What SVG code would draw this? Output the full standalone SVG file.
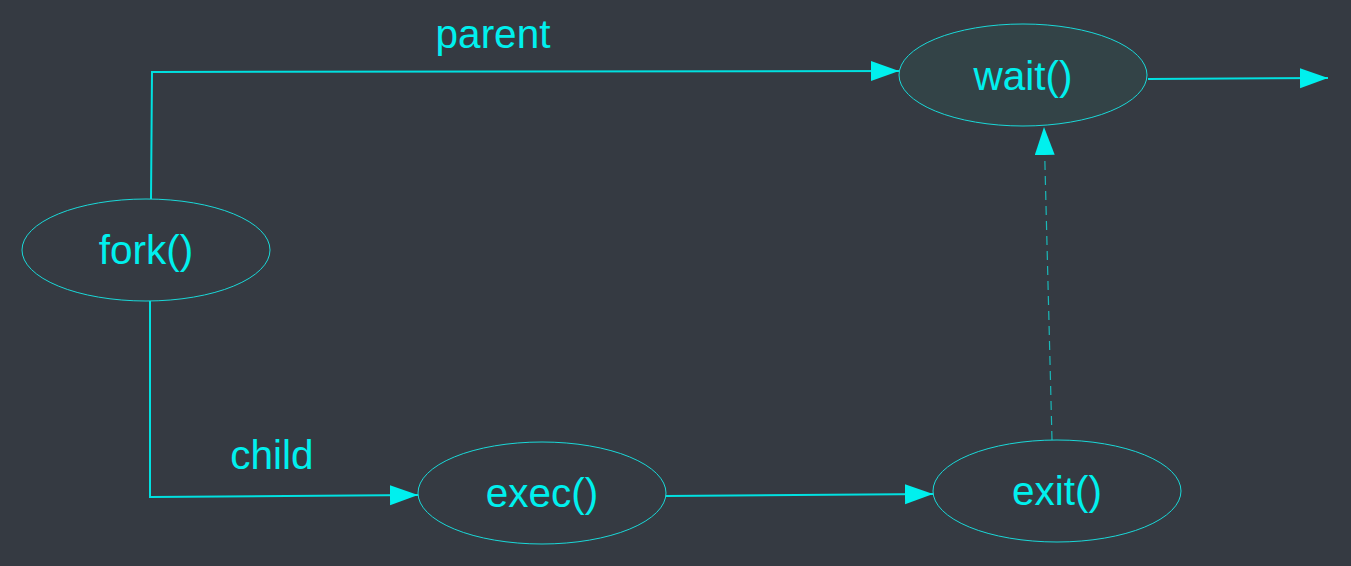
<svg xmlns="http://www.w3.org/2000/svg" width="1351" height="566" viewBox="0 0 1351 566">
<style>
.node ellipse{fill:none;stroke:#1ad8d8;stroke-width:1}
.node text,.lbl{font-family:"Liberation Sans",Arial,sans-serif;font-size:40.5px;fill:#00f0ee;text-anchor:middle}
.edge{fill:none;stroke:#00e0e0;stroke-width:2}
.dash{fill:none;stroke:#1ab8b8;stroke-width:1.2;stroke-dasharray:9 6}
</style>
<defs>
<marker id="ah" markerUnits="userSpaceOnUse" markerWidth="30" markerHeight="22" refX="28" refY="10" orient="auto">
<path d="M0,0 L28,10 L0,20 z" fill="#00f0ee"/>
</marker>
</defs>
<rect width="1351" height="566" fill="#353a42"/>
<g id="connectors">
<polyline class="edge" points="151,199 152,72 899,71" marker-end="url(#ah)"/>
<polyline class="edge" points="150,301 150,497 418,495" marker-end="url(#ah)"/>
<line class="edge" x1="666" y1="496" x2="933" y2="494" marker-end="url(#ah)"/>
<line class="edge" x1="1148" y1="79" x2="1328" y2="78" marker-end="url(#ah)"/>
<line class="dash" x1="1052" y1="440" x2="1044" y2="127" marker-end="url(#ah)"/>
<text class="lbl" x="493" y="48">parent</text>
<text class="lbl" x="272" y="469">child</text>
</g>
<g id="wait" class="node">
<ellipse cx="1023" cy="75" rx="124" ry="51" style="fill:#334347"/>
<text x="1023" y="90">wait()</text>
</g>
<g id="fork" class="node">
<ellipse cx="146" cy="250" rx="124" ry="51"/>
<text x="146" y="264">fork()</text>
</g>
<g id="exec" class="node">
<ellipse cx="542" cy="493" rx="124" ry="51"/>
<text x="542" y="507">exec()</text>
</g>
<g id="exit" class="node">
<ellipse cx="1057" cy="491" rx="124" ry="51"/>
<text x="1057" y="505">exit()</text>
</g>
</svg>
